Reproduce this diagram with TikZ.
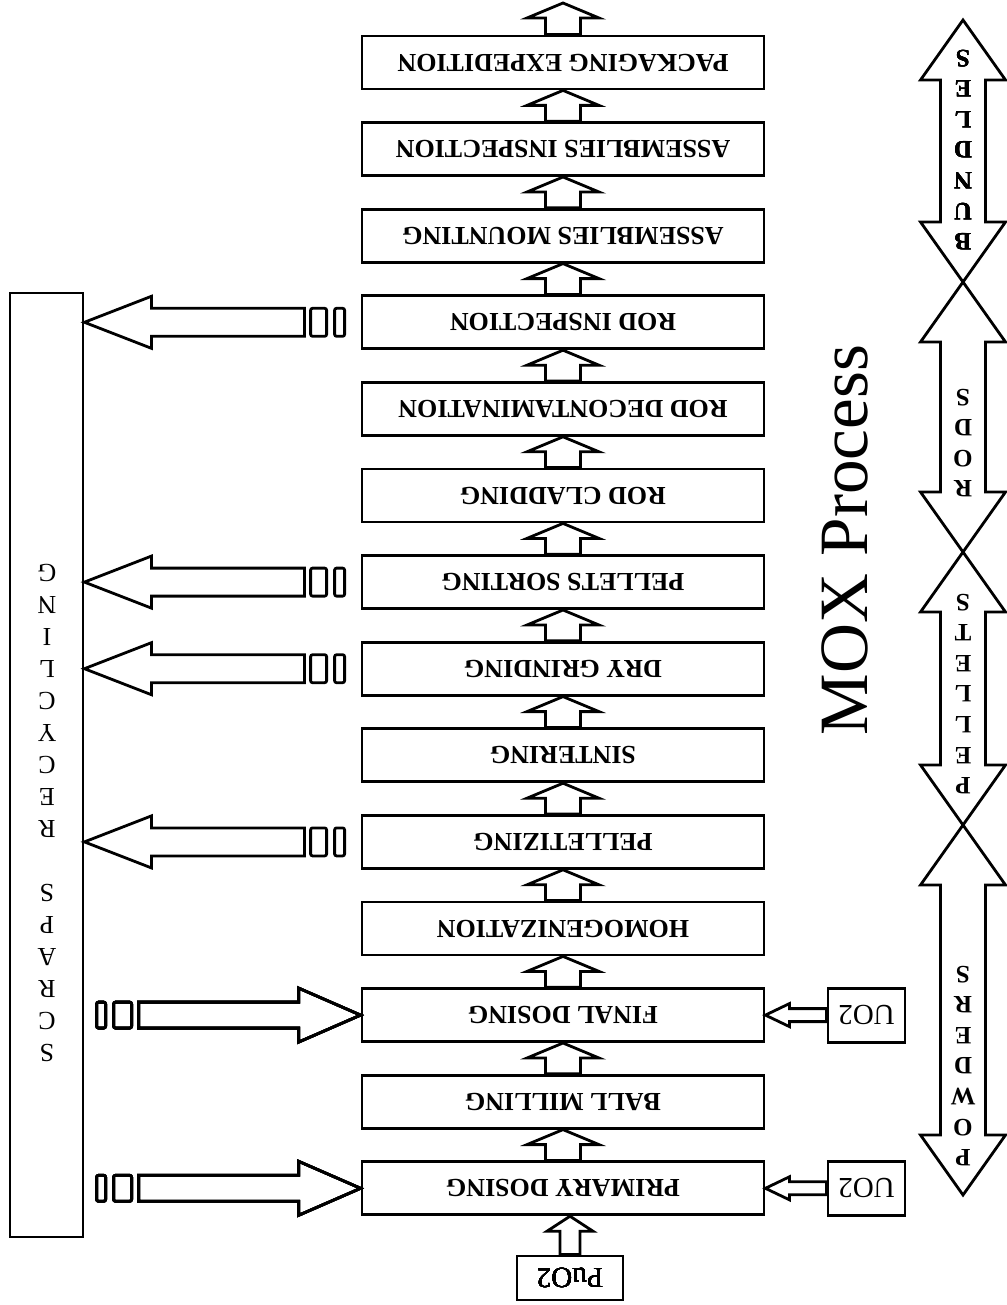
\documentclass[tikz,border=0pt]{standalone}
\usepackage{fontspec}
\setmainfont{Liberation Serif}
\usepackage{graphicx}
\usetikzlibrary{calc}
\newcommand{\flip}[1]{\rotatebox[origin=c]{180}{#1}}
\tikzstyle{stepbox}=[draw,line width=1.4pt,minimum width=201pt,minimum height=26.5pt,inner sep=0pt,font=\fontsize{13}{15}\selectfont\bfseries]
\tikzstyle{feedbox}=[draw,line width=1.4pt,inner sep=0pt,font=\fontsize{14.5}{16}\selectfont]
\tikzstyle{blockline}=[draw,line width=1.4pt,line join=miter]
\tikzstyle{stacked}=[rotate=180,align=center,inner sep=0pt]
% block arrow pointing up, #1 tail point, #2 tip point
\newcommand{\blockup}[2]{%
  \path[blockline] #2 -- ++(36,15) -- ++(-18.5,0) -- ($#1+(17.5,0)$) -- ($#1+(-17.5,0)$)
    -- ($#2+(-17.5,15)$) -- ++(-18.5,0) -- cycle;}
% scraps leaving a step
\newcommand{\scrapout}[1]{%
  \path[blockline] (recycle.east |- #1.west) -- ++(67,-26) -- ++(0,12) -- ++(153,0) -- ++(0,28)
    -- ++(-153,0) -- ++(0,12) -- cycle;
  \path[blockline,rounded corners=1pt] ($(#1.west)+(-50,-14)$) rectangle ++(16,28)
    ($(#1.west)+(-26,-14)$) rectangle ++(10,28);}
% scraps coming back into a step
\newcommand{\scrapin}[1]{%
  \path[blockline] (#1.west) -- ++(-62,-27) -- ++(0,14) -- ++(-160,0) -- ++(0,26)
    -- ++(160,0) -- ++(0,14) -- cycle;
  \path[blockline,rounded corners=1pt] ($(#1.west)+(-247,-13)$) rectangle ++(18,26)
    ($(#1.west)+(-264,-13)$) rectangle ++(9,26);}
% UO2 feed into a step
\newcommand{\feedin}[2]{%
  \path[blockline] (#2.east) -- ++(24,-11.5) -- ++(0,5) -- ($(#1.west)+(0,-6.5)$)
    -- ($(#1.west)+(0,6.5)$) -- ($(#2.east)+(24,6.5)$) -- ++(0,5) -- cycle;}
% double arrow of the right column
\newcommand{\dblarrow}[2]{%
  \path[blockline] #1 -- ++(42.5,60) -- ++(-20,0) -- ($#2+(22.5,-60)$) -- ++(20,0) -- #2
    -- ++(-42.5,-60) -- ++(20,0) -- ($#1+(-22.5,60)$) -- ++(-20,0) -- cycle;}

\begin{document}
\begin{tikzpicture}[x=0.5pt,y=-0.5pt]
    \useasboundingbox (0,0) rectangle (1006,1305);
    % Process steps, from the last one down to the first
    \foreach \name/\txt [count=\i from 0] in {pack/PACKAGING EXPEDITION, asinsp/ASSEMBLIES INSPECTION,
        asmount/ASSEMBLIES MOUNTING, rodinsp/ROD INSPECTION, roddecon/ROD DECONTAMINATION,
        rodclad/ROD CLADDING, sort/PELLETS SORTING, grind/DRY GRINDING, sinter/SINTERING,
        pellet/PELLETIZING, homog/HOMOGENIZATION, fdos/FINAL DOSING, mill/BALL MILLING,
        pdos/PRIMARY DOSING}
        \node[stepbox] (\name) at (563,{62.5+86.6*\i}) {\flip{\txt}};
    % Flow between the steps
    \coordinate (exit) at (563,3);
    \blockup{(pack.north)}{(exit)}
    \foreach \lo/\up in {asinsp/pack, asmount/asinsp, rodinsp/asmount, roddecon/rodinsp,
        rodclad/roddecon, sort/rodclad, grind/sort, sinter/grind, pellet/sinter, homog/pellet,
        fdos/homog, mill/fdos, pdos/mill}
        \blockup{(\lo.north)}{(\up.south)}
    % Feeds
    \node[feedbox,minimum width=53pt,minimum height=22pt] (puo) at (570,1278) {\flip{PuO2}};
    \node[feedbox,minimum width=38.5pt,minimum height=27pt] (uoa) at (866.5,0 |- pdos) {\flip{UO2}};
    \node[feedbox,minimum width=38.5pt,minimum height=27pt] (uob) at (866.5,0 |- fdos) {\flip{UO2}};
    \path[blockline] (puo.north |- pdos.south) -- ++(23,15) -- ++(-13,0) -- ($(puo.north)+(10,0)$)
        -- ($(puo.north)+(-10,0)$) -- ($(puo.north |- pdos.south)+(-10,15)$) -- ++(-13,0) -- cycle;
    \feedin{uoa}{pdos}
    \feedin{uob}{fdos}
    % Scraps recycling
    \node[draw,line width=1.4pt,minimum width=36.5pt,minimum height=472pt] (recycle) at (46.5,765) {};
    \node[stacked,font=\fontsize{13}{16}\selectfont] (scraps) at (47,813)
        {S\\C\\R\\A\\P\\S\\\mbox{}\\R\\E\\C\\Y\\C\\L\\I\\N\\G};
    \foreach \step in {rodinsp, sort, grind, pellet}
        \scrapout{\step}
    \foreach \step in {fdos, pdos}
        \scrapin{\step}
    % Product stages
    \foreach \n/\y in {0/20, 1/282, 2/552, 3/825, 4/1195}
        \coordinate (tip\n) at (963,\y);
    \foreach \a/\b in {tip0/tip1, tip1/tip2, tip2/tip3, tip3/tip4}
        \dblarrow{(\a)}{(\b)}
    \node[stacked,font=\fontsize{12.5}{15.3}\selectfont\bfseries] (bundles) at (963,150) {B\\U\\N\\D\\L\\E\\S};
    \node[stacked,font=\fontsize{12.5}{15.3}\selectfont\bfseries] (rods) at (963,443) {R\\O\\D\\S};
    \node[stacked,font=\fontsize{12.5}{15.3}\selectfont\bfseries] (pellets) at (963,694) {P\\E\\L\\L\\E\\T\\S};
    \node[stacked,font=\fontsize{12.5}{15.3}\selectfont\bfseries] (powders) at (963,1066) {P\\O\\W\\D\\E\\R\\S};
    \node[rotate=90,font=\fontsize{34.6}{40}\selectfont] (title) at (845,540) {MOX Process};
\end{tikzpicture}
\end{document}
